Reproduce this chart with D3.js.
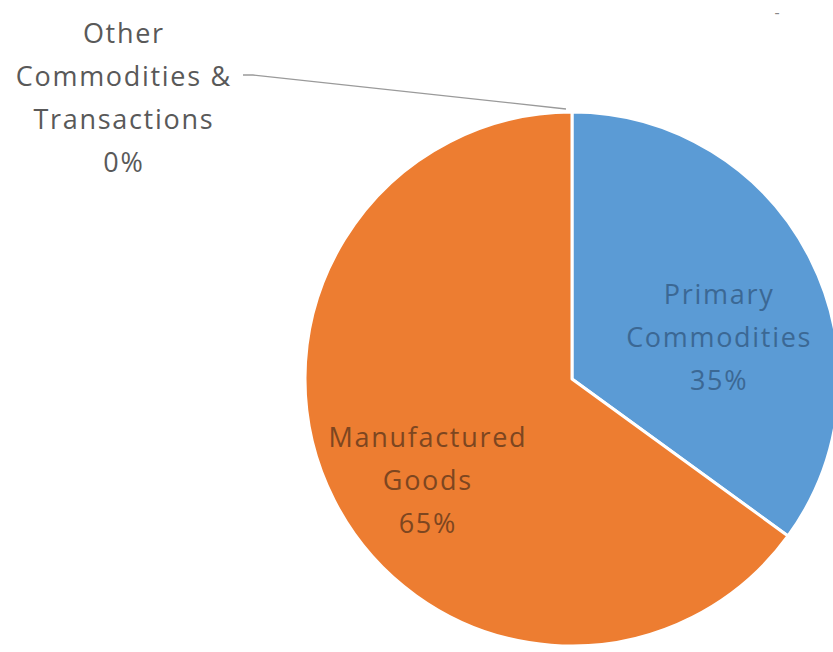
<!DOCTYPE html>
<html>
<head>
<meta charset="utf-8">
<script src="https://cdn.jsdelivr.net/npm/d3@7"></script>
<style>
  body { margin: 0; background: #fff; }
  text { font-family: "Open Sans", Lato, sans-serif; font-variant-ligatures: none; }
</style>
</head>
<body>
<div id="chart"></div>
<script>
// DATA
// ------------------------------------------------------------------
var categories = ["Primary Commodities", "Manufactured Goods", "Other Commodities & Transactions"];
var shares = [35, 65, 0];
var labelLines = [
  ["Primary", "Commodities", "35%"],
  ["Manufactured", "Goods", "65%"],
  ["Other", "Commodities &", "Transactions", "0%"]
];
var colors = ["#5b9bd5", "#ed7d31", "#a5a5a5"];
var labelColors = ["#3b6894", "#7d4620", "#595959"];

// CANVAS
// ------------------------------------------------------------------
var width = 833,
    height = 652;

var svg = d3.select("#chart")
    .append("svg")
    .attr("width", width)
    .attr("height", height);

var cx = 572, cy = 379, radius = 267;

var g = svg.append("g")
    .attr("transform", "translate(" + cx + "," + cy + ")");

var data = categories.map(function(c, i) {
  return { name: c, value: shares[i], lines: labelLines[i], color: colors[i], textColor: labelColors[i] };
});

var pie = d3.pie()
    .sort(null)
    .value(function(d) { return d.value; });

var arc = d3.arc()
    .innerRadius(0)
    .outerRadius(radius);

var arcs = pie(data);

// SLICES
// ------------------------------------------------------------------
g.selectAll("path.slice")
    .data(arcs.filter(function(d) { return d.data.value > 0; }))
    .enter()
    .append("path")
    .attr("class", "slice")
    .attr("d", arc)
    .attr("fill", function(d) { return d.data.color; })
    .attr("stroke", "#fff")
    .attr("stroke-width", 3)
    .attr("stroke-linejoin", "round");

// LABELS
// ------------------------------------------------------------------
var lineH = 43,
    fontSize = 27,
    spacing = 1.7;

// inside labels: polar anchor (angle in degrees from 12 o'clock, radius share)
var insideSpots = { 0: [74, 0.57], 1: [235, 0.663] };

function drawLabel(sel, x, y, d) {
  var n = d.data.lines.length;
  var t = sel.append("text")
      .attr("text-anchor", "middle")
      .attr("font-size", fontSize)
      .attr("letter-spacing", spacing)
      .attr("fill", d.data.textColor);
  d.data.lines.forEach(function(line, k) {
    t.append("tspan")
        .attr("x", x + spacing / 2)
        .attr("y", y + (k - (n - 1) / 2) * lineH + fontSize * 0.35)
        .text(line);
  });
}

arcs.forEach(function(d, i) {
  if (insideSpots[i]) {
    var a = insideSpots[i][0] * Math.PI / 180,
        r = insideSpots[i][1] * radius;
    drawLabel(g, r * Math.sin(a), -r * Math.cos(a), d);
  }
});

// outside label for the empty slice, with a leader line to its spot on the rim
var other = arcs[2];
var rimAngle = other.startAngle;
var rimX = cx + (radius + 2) * Math.sin(rimAngle) - 6,
    rimY = cy - (radius + 2) * Math.cos(rimAngle) - 1;
var boxX = 123, boxY = 98;

drawLabel(svg, boxX, boxY, other);

svg.append("polyline")
    .attr("points", [[boxX + 120, 75], [boxX + 130, 75], [rimX, rimY]].map(function(p) { return p.join(","); }).join(" "))
    .attr("fill", "none")
    .attr("stroke", "#9a9a9a")
    .attr("stroke-width", 1.3);

// small stray mark at top right
svg.append("text")
    .attr("x", 777)
    .attr("y", 18)
    .attr("text-anchor", "middle")
    .attr("font-size", 16)
    .attr("fill", "#888")
    .text("-");
</script>
</body>
</html>
